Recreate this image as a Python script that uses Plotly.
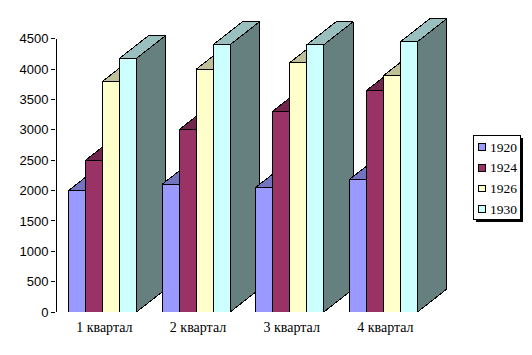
import plotly.graph_objects as go

quarters = ["1 квартал", "2 квартал", "3 квартал", "4 квартал"]
series_names = ["1920", "1924", "1926", "1930"]
values_1920 = [2000, 2105, 2055, 2185]
values_1924 = [2500, 3005, 3310, 3650]
values_1926 = [3800, 4000, 4110, 3895]
values_1930 = [4180, 4405, 4405, 4455]
y_ticks = [0, 500, 1000, 1500, 2000, 2500, 3000, 3500, 4000, 4500]

front_colors = ["#9999FF", "#993366", "#FFFFCC", "#CCFFFF"]
top_colors = ["#7373BF", "#73264C", "#BFBF99", "#99BFBF"]
side_colors = ["#4D4D80", "#4D1A33", "#808066", "#668080"]

W, H = 532, 355
L, R, T, B = 56, 62, 8.5, 42.5
PX_PER_GROUP = 93.67
PX_PER_UNIT = 274 / 4500
BAR_W = 17 / PX_PER_GROUP
DEPTH_X = 29.3 / PX_PER_GROUP
DEPTH_Y = 23 / PX_PER_UNIT
x_start = (L - 102.5) / PX_PER_GROUP
x_end = (W - R - 102.5) / PX_PER_GROUP
y_end = (H - T - B) / PX_PER_UNIT

all_values = [values_1920, values_1924, values_1926, values_1930]
fig = go.Figure()


def face(xs, ys, color, name):
    fig.add_trace(go.Scatter(
        x=xs, y=ys, fill="toself", fillcolor=color, mode="lines",
        line=dict(color="#000000", width=1), cliponaxis=False,
        hoverinfo="skip", showlegend=False, name=name))


for g in range(len(quarters)):
    for s, name in enumerate(series_names):
        v = all_values[s][g]
        x0 = g + (s - 2) * BAR_W
        x1 = x0 + BAR_W
        face([x0, x1, x1 + DEPTH_X, x0 + DEPTH_X, x0],
             [v, v, v + DEPTH_Y, v + DEPTH_Y, v], top_colors[s], name)
        face([x1, x1 + DEPTH_X, x1 + DEPTH_X, x1, x1],
             [0, DEPTH_Y, v + DEPTH_Y, v, 0], side_colors[s], name)
        face([x0, x1, x1, x0, x0], [0, 0, v, v, 0], front_colors[s], name)


def px(x):
    return (x - L) / (W - L - R)


def py(y):
    return 1 - (y - T) / (H - T - B)


shapes = [
    dict(type="line", xref="x domain", yref="y", x0=0, x1=0, y0=0, y1=4500,
         line=dict(color="#000000", width=1)),
    dict(type="rect", xref="paper", yref="paper", x0=px(476), x1=px(523),
         y0=py(222), y1=py(138), fillcolor="#000000",
         line=dict(color="#000000", width=0)),
    dict(type="rect", xref="paper", yref="paper", x0=px(473.5), x1=px(520.5),
         y0=py(219.5), y1=py(135.5), fillcolor="#FFFFFF",
         line=dict(color="#000000", width=1)),
]
annotations = []
for s, name in enumerate(series_names):
    cy = 147 + s * 20.8
    shapes.append(dict(type="rect", xref="paper", yref="paper",
                       x0=px(478.5), x1=px(485.5), y0=py(cy + 3.5), y1=py(cy - 3.5),
                       fillcolor=front_colors[s], line=dict(color="#000000", width=1)))
    annotations.append(dict(xref="paper", yref="paper", x=px(488), y=py(cy),
                            text=name, showarrow=False, xanchor="left", yanchor="middle",
                            font=dict(family="Liberation Serif", size=13.5, color="#000000")))

fig.update_layout(
    width=W, height=H, margin=dict(l=L, r=R, t=T, b=B, autoexpand=False),
    paper_bgcolor="#FFFFFF", plot_bgcolor="#FFFFFF", showlegend=False,
    shapes=shapes, annotations=annotations,
    xaxis=dict(range=[x_start, x_end], tickmode="array",
               tickvals=[g + 0.02 for g in range(len(quarters))], ticktext=quarters,
               showgrid=False, zeroline=False, showline=False, ticks="",
               ticklabelstandoff=5,
               tickfont=dict(family="Liberation Serif", size=14, color="#000000")),
    yaxis=dict(range=[0, y_end], tickmode="array", tickvals=y_ticks,
               showgrid=False, zeroline=False, showline=False, ticks="outside",
               ticklen=4, tickwidth=1, tickcolor="#000000",
               tickfont=dict(family="Liberation Sans", size=13, color="#000000")),
)

fig.write_html("out.html", config={"displayModeBar": False}, post_script=(
    "document.body.style.margin='0';document.body.style.overflow='hidden';"
    "document.querySelectorAll('.scatterlayer path, .shapelayer path').forEach("
    "function(p){p.style.shapeRendering='crispEdges';});"))
